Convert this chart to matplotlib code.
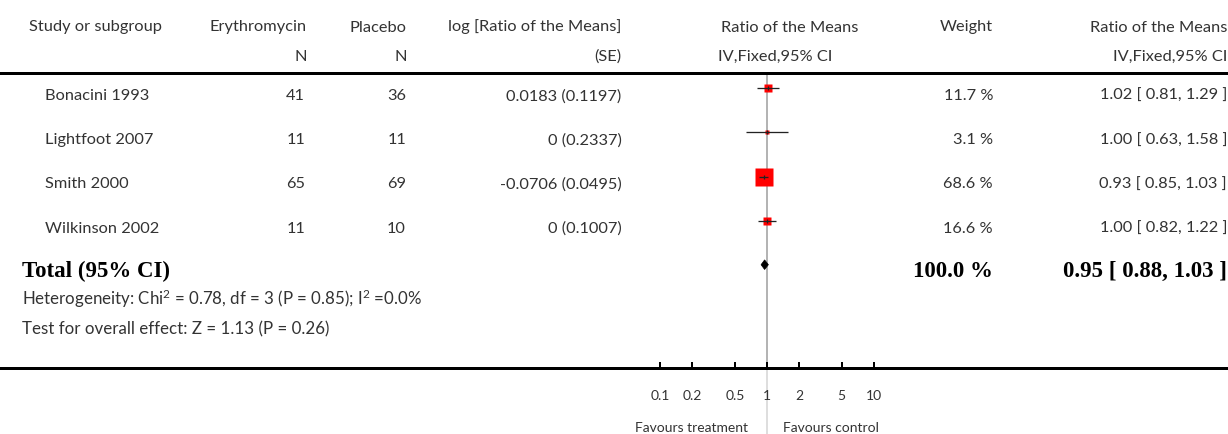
import matplotlib
matplotlib.use("Agg")
import matplotlib.pyplot as plt
import numpy as np

# ---------------- data ----------------
studies = ["Bonacini 1993", "Lightfoot 2007", "Smith 2000", "Wilkinson 2002"]
n_erythromycin = [41, 11, 65, 11]
n_placebo = [36, 11, 69, 10]
log_ratio = ["0.0183", "0", "-0.0706", "0"]
log_se = ["0.1197", "0.2337", "0.0495", "0.1007"]
weights = [11.7, 3.1, 68.6, 16.6]
ratio = [1.02, 1.00, 0.93, 1.00]
ci_low = [0.81, 0.63, 0.85, 0.82]
ci_high = [1.29, 1.58, 1.03, 1.22]
total_ratio = 0.95
total_low = 0.88
total_high = 1.03
total_weight = 100.0
heterogeneity = "Heterogeneity: Chi$^{2}$ = 0.78, df = 3 (P = 0.85); I$^{2}$ =0.0%"
overall_effect = "Test for overall effect: Z = 1.13 (P = 0.26)"
axis_ticks = [0.1, 0.2, 0.5, 1, 2, 5, 10]
axis_tick_labels = ["0.1", "0.2", "0.5", "1", "2", "5", "10"]
headers1 = ["Study or subgroup", "Erythromycin", "Placebo", "log [Ratio of the Means]",
            "Ratio of the Means", "Weight", "Ratio of the Means"]
headers2 = ["N", "N", "(SE)", "IV,Fixed,95% CI", "IV,Fixed,95% CI"]
favours_left = "Favours treatment"
favours_right = "Favours control"

# ---------------- layout ----------------
W, H, DPI = 1228, 434, 100
X_ONE = 767.0      # pixel of ratio = 1
DECADE = 106.7     # pixels per decade
FONT = "Lato"
SERIF = "Liberation Serif"
TXT = "#333333"
FS = 11.8
FS_NOTE = 12.2
FS_BOLD = 16.5
FS_AXIS = 10

plt.rcParams["mathtext.fontset"] = "custom"
plt.rcParams["mathtext.rm"] = FONT
plt.rcParams["mathtext.it"] = FONT + ":italic"
plt.rcParams["mathtext.default"] = "regular"

fig = plt.figure(figsize=(W / DPI, H / DPI), dpi=DPI)
ax = fig.add_axes([0, 0, 1, 1])
ax.set_xscale("log")
ax.set_xlim(10 ** (-X_ONE / DECADE), 10 ** ((W - X_ONE) / DECADE))
ax.set_ylim(H, 0)
ax.axis("off")

px = 0.72  # points per pixel


def ftext(x, y, s, ha="left", **kw):
    kw.setdefault("fontsize", FS)
    kw.setdefault("family", FONT)
    kw.setdefault("color", TXT)
    fig.text(x / W, 1 - y / H, s, ha=ha, va="baseline", **kw)


# headers
hx1 = [(29, "left"), (306.5, "right"), (406.5, "right"), (621.5, "right"),
       (790, "center"), (993, "right"), (1227, "right")]
for (x, ha), s in zip(hx1, headers1):
    ftext(x, 31.5, s, ha=ha)
hx2 = [(306.5, "right"), (406.5, "right"), (621.5, "right"), (775, "center"), (1227, "right")]
for (x, ha), s in zip(hx2, headers2):
    ftext(x, 61, s, ha=ha)

# header rule and axis rule
ax.axhline(72.5, color="black", lw=3 * px, zorder=3)
ax.axhline(368.3, color="black", lw=3 * px, zorder=3)

# reference line at 1
ax.plot([1, 1], [73, 368], color="#b4b4b4", lw=2 * px, zorder=1)
ax.plot([1, 1], [369, H], color="#d6d6d6", lw=1.6 * px, zorder=1)

# study rows
ROW0, ROWSTEP = 88.3, 44.1
for i, name in enumerate(studies):
    y = ROW0 + i * ROWSTEP
    base = y + 12
    ftext(45, base, name)
    ftext(305, base, str(n_erythromycin[i]), ha="right")
    ftext(406, base, str(n_placebo[i]), ha="right")
    ftext(621.5, base, f"{log_ratio[i]} ({log_se[i]})", ha="right")
    ftext(993, base, f"{weights[i]:.1f} %", ha="right")
    ftext(1227, base, f"{ratio[i]:.2f} [ {ci_low[i]:.2f}, {ci_high[i]:.2f} ]", ha="right")

    side = 2.14 * np.sqrt(weights[i]) * px
    ax.plot([ratio[i]], [y], marker="s", ms=side, color="#ff0000", mec="none",
            ls="none", zorder=4)
    ax.plot([ci_low[i], ci_high[i]], [y, y], color="#222222", lw=1.3 * px,
            zorder=5, solid_capstyle="butt")
    ax.plot([ratio[i]], [y], marker="|", ms=4 * px, mew=1.3 * px,
            color="#222222", ls="none", zorder=5)

# total row
yt = ROW0 + 4 * ROWSTEP
bold = dict(family=SERIF, fontsize=FS_BOLD, fontweight="bold", color="black")
ftext(22, yt + 12.3, "Total (95% CI)", **bold)
ftext(993, yt + 12.3, f"{total_weight:.1f} %", ha="right", **bold)
ftext(1227, yt + 12.3, f"{total_ratio:.2f} [ {total_low:.2f}, {total_high:.2f} ]",
      ha="right", **bold)
ax.fill([total_low, total_ratio, total_high, total_ratio],
        [yt, yt - 4.8, yt, yt + 4.8], color="black", lw=0.5, zorder=5)

ftext(22, 305, heterogeneity, fontsize=FS_NOTE)
ftext(22, 334, overall_effect, fontsize=FS_NOTE)

# axis ticks and labels
ax.vlines(axis_ticks, 361.7, 368.3, color="black", lw=2 * px, zorder=3)
for t, lab in zip(axis_ticks, axis_tick_labels):
    ax.text(t, 400, lab, ha="center", va="baseline", fontsize=FS_AXIS,
            family=FONT, color=TXT)

ftext(748, 431.5, favours_left, ha="right", fontsize=FS_AXIS)
ftext(783, 431.5, favours_right, ha="left", fontsize=FS_AXIS)

fig.savefig("out.png", dpi=DPI)
